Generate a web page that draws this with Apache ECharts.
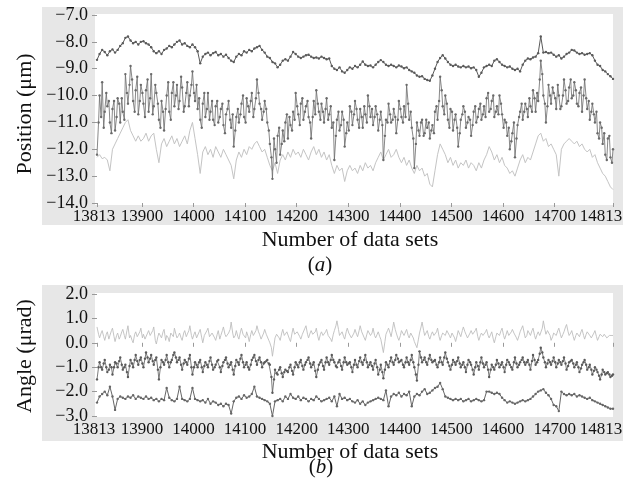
<!DOCTYPE html>
<html>
<head>
<meta charset="utf-8">
<script src="https://cdn.jsdelivr.net/npm/echarts@6/dist/echarts.min.js"></script>
<style>html,body{margin:0;padding:0;background:#fff;}#c{width:637px;height:490px;}</style>
</head>
<body>
<div id="c"></div>
<script>
// data set numbers (x positions): main samples every 5 data sets, plus in-between samples
const dataSets = [];
for (let i = 0; i <= 200; i++) dataSets.push(13813 + 5 * i);
const midDataSets = [];
for (let i = 0; i < 200; i++) midDataSets.push(13816 + 5 * i);

const xTickValues = [13813, 13900, 14000, 14100, 14200, 14300, 14400, 14500, 14600, 14700, 14813];

// Panel (a): Position (um)
const posTop = [
-8.67,-8.45,-8.30,-8.38,-8.50,-8.35,-8.28,-8.40,-8.30,-8.15,
-8.05,-7.85,-7.80,-7.95,-8.05,-8.00,-8.10,-8.00,-7.98,-8.05,
-8.10,-8.20,-8.35,-8.42,-8.35,-8.45,-8.30,-8.25,-8.15,-8.20,
-8.10,-8.00,-7.95,-8.10,-8.05,-8.15,-8.20,-8.10,-8.20,-8.35,
-8.80,-8.55,-8.45,-8.40,-8.50,-8.42,-8.38,-8.50,-8.45,-8.55,
-8.48,-8.60,-8.70,-8.75,-8.55,-8.45,-8.50,-8.35,-8.40,-8.30,
-8.35,-8.25,-8.20,-8.15,-8.30,-8.40,-8.55,-8.60,-8.75,-8.80,
-8.95,-8.85,-8.70,-8.65,-8.70,-8.55,-8.38,-8.45,-8.55,-8.60,
-8.55,-8.50,-8.48,-8.55,-8.60,-8.58,-8.62,-8.55,-8.60,-8.65,
-8.62,-8.90,-9.00,-9.05,-8.95,-9.10,-9.15,-9.05,-8.95,-9.00,
-8.90,-8.95,-8.85,-8.73,-8.85,-8.90,-8.88,-8.95,-8.85,-8.75,
-8.68,-8.75,-8.85,-8.90,-8.85,-8.90,-8.95,-8.88,-8.92,-8.98,
-8.95,-9.05,-9.10,-9.15,-9.25,-9.30,-9.28,-9.38,-9.42,-9.45,
-9.25,-9.00,-8.75,-8.60,-8.50,-8.62,-8.75,-8.85,-8.90,-8.85,
-8.92,-8.95,-8.90,-8.95,-8.92,-8.98,-8.95,-9.05,-9.30,-9.15,
-8.95,-8.90,-8.85,-8.90,-8.70,-8.65,-8.75,-8.85,-8.90,-8.95,
-8.92,-9.00,-9.05,-9.00,-9.10,-8.85,-8.70,-8.62,-8.65,-8.58,
-8.55,-8.42,-7.80,-8.40,-8.38,-8.42,-8.40,-8.48,-8.55,-8.50,
-8.62,-8.55,-8.45,-8.40,-8.30,-8.32,-8.40,-8.45,-8.42,-8.48,
-8.45,-8.42,-8.50,-8.70,-8.85,-8.90,-9.05,-9.10,-9.20,-9.28,
-9.38];

const posMid = [
-12.2,-10.0,-9.5,-10.6,-10.4,-11.0,-10.5,-11.3,-10.1,-11.0,
-10.6,-9.2,-10.3,-8.9,-10.2,-9.8,-10.7,-9.6,-10.3,-9.8,
-10.6,-9.2,-10.4,-9.9,-10.9,-10.2,-11.3,-10.0,-10.6,-9.9,
-10.4,-9.6,-10.2,-9.7,-10.4,-9.5,-10.0,-9.1,-10.2,-10.5,
-10.9,-10.3,-10.8,-9.9,-10.6,-10.9,-10.4,-11.0,-10.5,-11.1,
-10.7,-10.2,-11.2,-11.9,-10.8,-11.0,-10.3,-10.8,-10.1,-10.6,
-9.9,-10.5,-9.4,-10.3,-10.9,-10.2,-11.0,-11.8,-13.1,-12.0,
-11.5,-12.2,-11.3,-11.0,-11.6,-11.1,-10.6,-9.9,-10.7,-10.3,
-10.9,-10.4,-10.8,-11.6,-10.2,-9.8,-10.6,-10.3,-11.0,-10.1,
-10.7,-11.2,-12.4,-10.9,-11.3,-10.6,-11.9,-11.0,-10.4,-11.1,
-10.2,-10.9,-10.5,-11.2,-10.7,-10.0,-10.8,-11.1,-10.4,-11.3,
-10.6,-12.4,-10.9,-10.3,-11.0,-10.5,-11.4,-10.2,-10.8,-10.4,
-9.6,-10.9,-11.2,-12.7,-11.0,-11.5,-10.9,-11.4,-11.2,-11.6,
-11.1,-10.6,-10.9,-9.3,-10.4,-10.0,-10.9,-10.5,-11.3,-10.7,
-11.9,-10.9,-10.4,-11.2,-10.8,-11.5,-10.6,-11.0,-10.5,-10.9,
-10.4,-10.1,-10.6,-10.2,-10.8,-10.4,-10.0,-10.7,-10.9,-11.5,
-12.0,-11.4,-12.3,-11.1,-10.6,-10.9,-10.3,-10.8,-10.4,-9.8,
-10.6,-10.2,-8.7,-10.0,-11.0,-9.6,-10.3,-9.9,-10.5,-10.0,
-10.4,-9.4,-10.3,-9.7,-10.1,-9.5,-10.3,-9.9,-10.6,-9.4,
-10.5,-10.9,-10.3,-11.0,-11.4,-11.0,-11.8,-12.2,-11.6,-12.3,
-12.0];
const posMidBetween = [
-11.0,-10.8,-11.2,-9.9,-10.2,-11.4,-10.2,-10.8,-10.3,-10.1,
-10.9,-9.9,-9.6,-9.4,-10.6,-9.3,-10.2,-9.9,-10.8,-9.4,
-10.1,-10.7,-9.6,-10.3,-11.2,-10.6,-10.5,-9.5,-10.9,-9.5,
-10.0,-10.5,-9.3,-10.6,-9.9,-10.4,-9.6,-9.9,-9.6,-10.1,
-11.2,-9.9,-10.5,-10.9,-10.2,-11.1,-10.2,-10.8,-10.3,-11.4,
-10.5,-10.9,-10.7,-11.3,-10.5,-10.7,-10.0,-11.0,-10.4,-10.2,
-10.8,-10.1,-9.9,-10.5,-10.6,-10.5,-11.3,-12.3,-11.6,-12.5,
-11.2,-11.8,-11.7,-10.7,-10.8,-11.3,-10.9,-10.4,-11.1,-10.1,
-10.6,-10.2,-11.0,-10.8,-10.7,-10.3,-10.9,-10.6,-10.5,-10.9,
-10.4,-11.0,-11.5,-10.6,-11.1,-10.9,-11.4,-11.3,-10.6,-10.7,
-10.5,-11.2,-10.8,-10.4,-11.0,-10.4,-10.5,-10.8,-10.7,-10.9,
-11.1,-11.5,-11.0,-10.7,-10.9,-10.8,-10.9,-10.5,-11.0,-10.8,
-10.3,-10.6,-11.6,-11.8,-11.3,-11.0,-11.5,-10.9,-11.0,-11.3,
-11.4,-10.4,-10.2,-9.8,-10.7,-10.3,-11.2,-10.6,-10.9,-11.2,
-11.4,-10.7,-10.6,-11.0,-10.9,-11.1,-10.4,-10.8,-10.3,-10.7,
-10.8,-9.9,-10.5,-10.0,-10.6,-10.7,-10.3,-11.2,-11.0,-11.2,
-11.7,-11.0,-11.6,-10.8,-10.3,-10.6,-10.5,-10.1,-10.6,-10.1,
-9.9,-9.4,-9.2,-10.3,-10.4,-10.0,-9.7,-10.1,-9.6,-10.5,
-10.0,-9.8,-10.2,-9.4,-10.0,-9.8,-10.4,-9.7,-10.0,-10.1,
-10.2,-10.6,-10.7,-10.6,-11.6,-11.2,-11.4,-12.4,-11.5,-12.5];

const posLow = [
-12.3,-12.2,-12.35,-12.3,-12.4,-12.8,-12.0,-11.8,-11.6,-11.4,
-11.2,-11.0,-10.9,-11.3,-11.5,-11.7,-11.5,-11.7,-11.6,-11.4,
-11.7,-11.5,-11.4,-12.0,-12.5,-11.8,-11.6,-11.9,-11.7,-11.5,
-11.8,-11.6,-11.9,-11.7,-11.5,-11.8,-11.3,-11.0,-11.6,-12.2,
-12.9,-12.1,-11.9,-12.2,-12.0,-12.3,-11.9,-12.1,-12.3,-12.0,
-12.2,-12.4,-12.6,-13.1,-12.4,-12.1,-12.3,-12.0,-12.2,-11.9,
-12.0,-11.8,-11.7,-11.9,-12.1,-12.0,-12.3,-12.6,-12.8,-12.5,
-12.9,-12.4,-12.2,-12.4,-12.1,-12.3,-12.0,-12.2,-12.1,-12.3,
-12.0,-12.2,-12.4,-12.1,-11.9,-12.2,-12.0,-12.3,-12.1,-12.4,
-12.2,-12.6,-12.9,-12.6,-12.8,-12.7,-13.2,-12.8,-12.6,-12.8,
-12.7,-12.9,-12.6,-12.8,-12.5,-12.7,-12.6,-12.8,-12.5,-12.3,
-12.1,-12.4,-12.2,-12.0,-12.3,-12.2,-12.0,-12.3,-12.5,-12.3,
-12.6,-12.4,-12.7,-12.9,-12.6,-12.8,-12.7,-13.0,-12.9,-13.3,
-13.4,-12.8,-12.2,-11.8,-12.0,-12.2,-12.5,-12.3,-12.6,-12.4,
-12.7,-12.5,-12.6,-12.4,-12.7,-12.5,-12.6,-12.8,-12.5,-12.7,
-12.4,-12.2,-11.9,-12.1,-12.4,-12.2,-12.5,-12.3,-12.6,-12.7,
-12.9,-12.8,-13.0,-12.7,-12.4,-12.2,-12.5,-12.3,-12.4,-12.1,
-11.8,-11.5,-11.4,-11.7,-11.6,-11.9,-11.8,-12.0,-12.2,-13.0,
-12.0,-11.8,-11.7,-11.6,-11.7,-11.8,-11.7,-11.9,-11.8,-12.0,
-12.1,-12.0,-12.3,-12.2,-12.5,-12.7,-12.9,-13.0,-13.2,-13.4,
-13.5];

// Panel (b): Angle (urad)
const angTop = [
0.65,0.2,0.5,0.1,0.45,0.3,0.6,0.05,0.4,0.25,
0.55,0.15,0.7,0.3,0.0,0.45,0.2,0.6,0.35,0.1,
0.5,0.25,0.65,-0.05,0.4,0.2,0.55,0.3,0.05,0.45,
0.6,0.2,0.4,0.1,0.5,0.35,0.7,0.15,0.45,0.25,
0.55,0.0,0.35,0.6,0.2,0.45,0.1,0.5,0.3,0.65,
0.25,0.4,0.85,0.2,0.5,0.15,0.6,0.3,0.45,0.05,
0.5,0.25,0.7,0.35,0.1,0.55,0.3,0.0,-0.55,0.2,
0.4,0.1,0.55,0.25,0.45,0.05,0.6,0.3,0.5,0.15,
0.4,0.7,0.2,0.5,0.3,0.6,0.1,0.45,0.25,0.55,
0.35,0.05,0.5,0.9,0.3,0.45,0.15,0.6,0.35,0.2,
0.55,0.25,0.7,0.4,0.1,0.5,0.3,0.6,0.2,0.45,
0.15,-0.4,0.35,0.6,0.25,0.85,0.4,0.1,0.5,0.3,
0.55,0.2,0.45,0.05,-0.2,0.4,0.85,0.3,0.5,0.15,
0.45,0.25,0.6,0.1,0.4,0.3,0.55,0.2,0.45,0.05,
0.5,0.25,0.65,0.35,0.15,0.5,0.3,0.6,0.1,0.4,
0.25,0.55,0.2,0.45,0.0,0.4,0.3,0.6,0.15,0.5,
0.25,0.55,0.35,0.1,0.45,0.7,0.2,0.5,0.3,0.6,
0.15,0.45,0.25,0.9,0.35,0.55,0.1,0.4,0.3,0.6,
0.2,0.45,0.75,0.3,0.5,0.1,0.4,0.25,0.55,0.15,
0.45,0.3,0.2,0.5,0.1,0.35,0.25,0.4,0.15,0.35,
0.3];
const angTopBetween = [
0.35,0.4,0.25,0.35,0.15,0.5,0.25,0.3,0.15,0.45,
0.3,0.5,0.2,0.1,0.35,0.25,0.45,0.2,0.15,0.4,
0.3,0.5,0.1,0.25,0.35,0.45,0.1,0.2,0.4,0.25,
0.35,0.3,0.2,0.4,0.25,0.5,0.3,0.35,0.2,0.45,
0.2,0.3,0.5,0.25,0.4,0.2,0.35,0.15,0.5,0.35,
0.3,0.55,0.4,0.3,0.25,0.45,0.35,0.2,0.25,0.35,
0.3,0.5,0.45,0.15,0.4,0.35,0.1,-0.2,-0.1,0.35,
0.2,0.4,0.3,0.45,0.15,0.4,0.35,0.45,0.25,0.35,
0.6,0.35,0.4,0.35,0.45,0.25,0.35,0.3,0.45,0.3,
0.15,0.35,0.7,0.55,0.35,0.25,0.45,0.4,0.2,0.4,
0.35,0.5,0.45,0.2,0.35,0.45,0.4,0.3,0.35,0.25,
0.1,0.05,0.5,0.4,0.6,0.55,0.2,0.3,0.45,0.35,
0.3,0.4,0.2,0.1,0.15,0.65,0.5,0.35,0.25,0.35,
0.3,0.45,0.25,0.3,0.35,0.5,0.3,0.4,0.2,0.3,
0.35,0.5,0.45,0.2,0.4,0.35,0.5,0.25,0.3,0.3,
0.45,0.3,0.35,0.15,0.25,0.35,0.5,0.3,0.35,0.3,
0.45,0.4,0.2,0.3,0.6,0.4,0.3,0.45,0.5,0.3,
0.35,0.3,0.6,0.55,0.5,0.3,0.25,0.35,0.5,0.35,
0.35,0.65,0.45,0.4,0.25,0.3,0.35,0.45,0.3,0.35,
0.4,0.2,0.4,0.25,0.25,0.3,0.35,0.2,0.3,0.3];

const angMid = [
-1.5,-0.8,-1.1,-0.7,-1.2,-0.9,-1.3,-0.8,-1.0,-0.6,
-1.1,-0.9,-1.4,-0.7,-1.0,-0.5,-0.9,-0.6,-1.0,-0.4,
-0.8,-0.5,-0.9,-0.6,-1.5,-0.7,-0.9,-0.5,-1.0,-0.7,
-0.4,-0.8,-0.6,-1.1,-0.7,-0.9,-0.5,-1.3,-0.8,-1.0,
-0.7,-1.2,-0.8,-1.0,-0.6,-1.1,-0.9,-0.7,-1.2,-0.8,
-0.6,-1.0,-0.8,-1.3,-0.7,-0.9,-0.5,-1.0,-0.8,-1.1,
-0.7,-0.5,-0.9,-0.6,-1.0,-0.8,-0.7,-0.9,-2.05,-1.1,
-1.3,-1.0,-1.4,-1.1,-1.2,-0.9,-1.3,-0.8,-1.0,-0.7,
-1.1,-0.8,-0.6,-1.0,-0.8,-1.4,-0.9,-0.7,-1.1,-0.6,
-0.9,-0.5,-0.8,-1.0,-0.7,-1.1,-0.6,-0.9,-0.8,-1.2,
-0.7,-1.0,-0.6,-0.9,-0.5,-1.0,-0.8,-1.1,-0.7,-1.3,
-0.9,-1.45,-0.8,-1.0,-0.6,-0.9,-0.5,-0.8,-0.7,-1.0,
-0.6,-0.9,-0.5,-1.0,-1.55,-0.35,-0.8,-0.6,-0.9,-0.5,
-0.8,-0.7,-1.0,-0.6,-0.9,-0.4,-0.8,-1.1,-0.7,-0.9,
-0.6,-1.0,-0.8,-1.2,-0.7,-0.9,-1.3,-0.8,-1.1,-0.6,
-1.0,-0.8,-1.4,-0.9,-1.1,-0.7,-1.0,-0.8,-1.2,-0.7,
-0.9,-1.1,-0.6,-1.0,-0.8,-0.6,-0.9,-0.7,-1.1,-0.5,
-0.9,-0.7,-0.2,-0.6,-1.0,-0.7,-0.9,-0.6,-1.0,-0.7,
-0.9,-0.6,-1.1,-0.8,-0.7,-1.0,-0.8,-1.2,-0.9,-0.7,
-1.1,-0.9,-1.3,-1.0,-1.2,-1.5,-1.1,-1.3,-1.2,-1.4,
-1.3];
const angMidBetween = [
-1.0,-1.0,-0.85,-1.0,-1.1,-1.0,-1.0,-0.85,-0.75,-0.9,
-1.0,-1.2,-0.95,-0.85,-0.7,-0.75,-0.7,-0.85,-0.65,-0.6,
-0.65,-0.75,-0.7,-1.1,-1.0,-0.8,-0.7,-0.8,-0.8,-0.5,
-0.6,-0.7,-0.9,-0.85,-0.8,-0.65,-1.0,-1.0,-0.9,-0.8,
-1.0,-0.95,-0.9,-0.75,-0.9,-1.0,-0.75,-1.0,-0.95,-0.7,
-0.85,-0.9,-1.1,-0.95,-0.8,-0.65,-0.8,-0.9,-1.0,-0.9,
-0.6,-0.75,-0.7,-0.8,-0.85,-0.75,-0.85,-1.4,-1.5,-1.25,
-1.1,-1.25,-1.2,-1.15,-1.0,-1.15,-1.0,-0.9,-0.8,-0.95,
-0.9,-0.7,-0.85,-0.9,-1.15,-1.1,-0.8,-0.95,-0.8,-0.8,
-0.7,-0.7,-0.95,-0.8,-0.95,-0.8,-0.8,-0.85,-1.0,-0.9,
-0.9,-0.75,-0.8,-0.7,-0.8,-0.9,-0.95,-0.85,-1.0,-1.1,
-1.2,-1.1,-0.9,-0.75,-0.8,-0.7,-0.65,-0.75,-0.9,-0.8,
-0.8,-0.7,-0.8,-1.3,-0.9,-0.6,-0.7,-0.8,-0.65,-0.7,
-0.75,-0.9,-0.8,-0.8,-0.6,-0.65,-0.95,-0.9,-0.8,-0.75,
-0.85,-0.9,-1.0,-0.9,-0.8,-1.1,-1.0,-0.95,-0.8,-0.85,
-0.9,-1.1,-1.1,-1.0,-0.9,-0.85,-0.9,-1.0,-0.9,-0.8,
-1.0,-0.8,-0.85,-0.9,-0.7,-0.8,-0.8,-0.9,-0.75,-0.7,
-0.8,-0.45,-0.4,-0.8,-0.85,-0.8,-0.75,-0.8,-0.85,-0.8,
-0.75,-0.85,-0.95,-0.75,-0.85,-0.9,-1.0,-1.05,-0.8,-0.9,
-1.0,-1.1,-1.15,-1.1,-1.35,-1.3,-1.2,-1.25,-1.3,-1.35];

const angLow = [
-2.45,-2.2,-2.1,-2.0,-2.15,-1.8,-2.2,-2.75,-2.3,-2.2,
-2.25,-2.3,-2.2,-2.25,-2.15,-2.3,-2.2,-2.25,-2.3,-2.2,
-2.3,-2.25,-2.35,-2.3,-2.4,-2.3,-2.35,-1.85,-2.25,-2.35,
-2.4,-2.3,-1.8,-2.3,-2.35,-2.4,-2.3,-1.85,-2.3,-2.35,
-2.4,-2.35,-2.45,-2.3,-2.5,-2.4,-2.45,-2.55,-2.5,-2.6,
-2.5,-2.55,-2.9,-2.4,-2.25,-2.2,-2.3,-2.15,-2.25,-2.2,
-2.1,-1.8,-2.2,-2.25,-2.3,-2.35,-2.4,-2.5,-3.0,-2.4,
-2.35,-2.3,-2.4,-2.2,-2.3,-2.1,-2.25,-2.3,-2.2,-2.35,
-2.25,-2.3,-2.4,-2.3,-2.35,-2.2,-2.3,-2.4,-2.35,-2.3,
-2.25,-2.4,-2.2,-2.6,-2.1,-2.3,-2.25,-2.35,-2.3,-2.4,
-2.45,-2.35,-2.5,-2.4,-2.55,-2.45,-2.4,-2.35,-2.3,-2.25,
-2.3,-2.35,-1.95,-2.6,-2.2,-2.1,-2.15,-2.05,-2.2,-2.1,
-2.15,-2.0,-2.6,-2.2,-2.1,-2.15,-2.0,-1.9,-2.1,-2.05,
-1.95,-1.85,-1.8,-1.65,-1.9,-2.2,-2.25,-2.3,-2.35,-2.3,
-2.35,-2.3,-2.4,-2.35,-2.3,-2.4,-2.35,-2.3,-2.35,-2.4,
-2.35,-2.0,-2.0,-2.05,-2.1,-2.05,-2.1,-2.25,-2.35,-2.45,
-2.4,-2.45,-2.5,-2.45,-2.4,-2.35,-2.4,-2.35,-2.3,-2.2,
-2.1,-2.0,-1.95,-1.9,-2.05,-2.15,-2.3,-2.55,-2.6,-2.8,
-2.0,-2.1,-2.15,-2.1,-2.15,-2.1,-2.2,-2.15,-2.2,-2.25,
-2.3,-2.25,-2.35,-2.4,-2.45,-2.5,-2.55,-2.6,-2.65,-2.7,
-2.7];

const FONT = '"Liberation Serif","Times New Roman","DejaVu Serif",serif';
const TXT = '#111111';
const pairs = vals => vals.map((v, i) => [dataSets[i], v]);
function pairsWithBetween(vals, between) {
  const out = [];
  vals.forEach((v, i) => {
    out.push([dataSets[i], v]);
    if (i < between.length) out.push([midDataSets[i], between[i]]);
  });
  return out;
}
const yFmt = v => (v < 0 ? '\u2212' : '') + Math.abs(v).toFixed(1);

function xAxis(gi) {
  return {
    type: 'value', gridIndex: gi, min: 13813, max: 14813,
    axisLine: { show: false },
    axisTick: { show: true, length: 4, lineStyle: { color: '#999' }, customValues: xTickValues },
    splitLine: { show: false },
    axisLabel: {
      customValues: xTickValues, margin: 5, color: TXT, fontFamily: FONT, fontSize: 17,
      formatter: v => v === 14813 ? '{r|14813}' : (v === 13813 ? '{l|13813}' : String(v)),
      rich: {
        r: { fontFamily: FONT, fontSize: 17, color: TXT, padding: [0, 24, 0, 0] },
        l: { fontFamily: FONT, fontSize: 17, color: TXT, padding: [0, 6, 0, 0] }
      }
    }
  };
}
function yAxis(gi, mn, mx) {
  return {
    type: 'value', gridIndex: gi, min: mn, max: mx, interval: 1,
    axisLine: { show: false },
    axisTick: { show: true, length: 5, lineStyle: { color: '#999' } },
    splitLine: { show: false },
    axisLabel: { margin: 9, color: TXT, fontFamily: FONT, fontSize: 18, formatter: yFmt }
  };
}
function line(data, gi, color, sym, w) {
  return {
    type: 'line', xAxisIndex: gi, yAxisIndex: gi, data: data,
    showSymbol: sym, symbol: 'circle', symbolSize: 2.4,
    itemStyle: { color: color },
    lineStyle: { color: color, width: w },
    emphasis: { disabled: true }, animation: false
  };
}

const chart = echarts.init(document.getElementById('c'), null, { renderer: 'canvas' });
chart.setOption({
  animation: false,
  backgroundColor: '#ffffff',
  grid: [
    { left: 97, top: 15, width: 516, height: 188 },
    { left: 97, top: 294, width: 516, height: 122 }
  ],
  xAxis: [xAxis(0), xAxis(1)],
  yAxis: [yAxis(0, -14, -7), yAxis(1, -3, 2)],
  graphic: [
    { type: 'rect', z: -10, shape: { x: 42, y: 7, width: 581, height: 218 }, style: { fill: '#e7e7e7' } },
    { type: 'rect', z: -9, shape: { x: 95, y: 14, width: 518, height: 191 }, style: { fill: '#ffffff' } },
    { type: 'rect', z: -10, shape: { x: 42, y: 285, width: 581, height: 156 }, style: { fill: '#e7e7e7' } },
    { type: 'rect', z: -9, shape: { x: 95, y: 293, width: 518, height: 124 }, style: { fill: '#ffffff' } },
    { type: 'text', x: 25, y: 114, rotation: Math.PI / 2,
      style: { text: 'Position (\u03bcm)', font: '22px ' + FONT, fill: TXT, textAlign: 'center', textVerticalAlign: 'middle' } },
    { type: 'text', x: 25, y: 356, rotation: Math.PI / 2,
      style: { text: 'Angle (\u03bcrad)', font: '22px ' + FONT, fill: TXT, textAlign: 'center', textVerticalAlign: 'middle' } },
    { type: 'text', x: 350, y: 240,
      style: { text: 'Number of data sets', font: '22px ' + FONT, fill: TXT, textAlign: 'center', textVerticalAlign: 'middle' } },
    { type: 'text', x: 320, y: 265,
      style: { text: '({i|a})', font: '21px ' + FONT, fill: TXT, textAlign: 'center', textVerticalAlign: 'middle',
        rich: { i: { fontStyle: 'italic', fontFamily: FONT, fontSize: 21, fill: TXT } } } },
    { type: 'text', x: 350, y: 452,
      style: { text: 'Number of data sets', font: '22px ' + FONT, fill: TXT, textAlign: 'center', textVerticalAlign: 'middle' } },
    { type: 'text', x: 321, y: 467,
      style: { text: '({i|b})', font: '21px ' + FONT, fill: TXT, textAlign: 'center', textVerticalAlign: 'middle',
        rich: { i: { fontStyle: 'italic', fontFamily: FONT, fontSize: 21, fill: TXT } } } }
  ],
  series: [
    line(pairs(posLow), 0, '#c4c4c4', false, 1),
    line(pairsWithBetween(posMid, posMidBetween), 0, '#6a6a6a', true, 0.8),
    line(pairs(posTop), 0, '#5a5a5a', true, 1),
    line(pairsWithBetween(angTop, angTopBetween), 1, '#bdbdbd', false, 0.9),
    line(pairsWithBetween(angMid, angMidBetween), 1, '#5a5a5a', true, 0.8),
    line(pairs(angLow), 1, '#666666', true, 1)
  ]
});
</script>
</body>
</html>
